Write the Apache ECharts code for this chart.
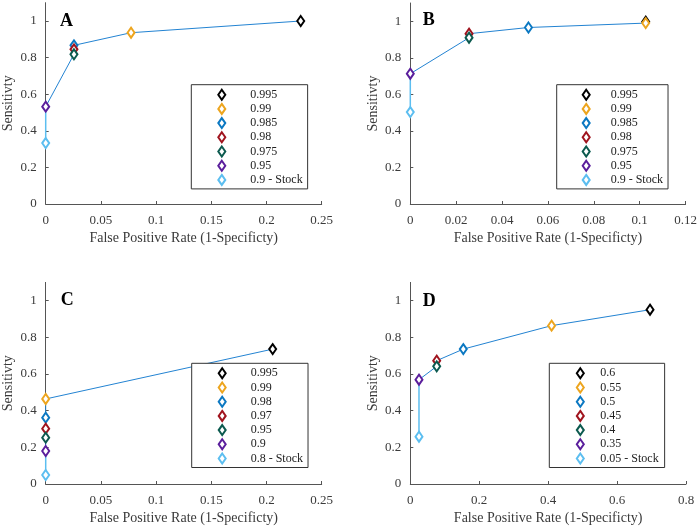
<!DOCTYPE html>
<html><head><meta charset="utf-8">
<script src="https://cdn.jsdelivr.net/npm/echarts@6/dist/echarts.min.js"></script>
<style>html,body{margin:0;padding:0;background:#fff}#c{width:700px;height:528px}</style>
</head><body><div id="c"></div>
<script>
// ---- data ----
const markerColors = ['#000000', '#EDA51E', '#0B78C2', '#A0141E', '#0C5A4F', '#5A1E9C', '#5CBEF0'];

const namesA = ['0.995', '0.99', '0.985', '0.98', '0.975', '0.95', '0.9 - Stock'];
const fprA   = [0.231, 0.0773, 0.0256, 0.0256, 0.0256, 0, 0];
const sensA  = [1.0, 0.936, 0.867, 0.845, 0.818, 0.532, 0.333];

const namesB = ['0.995', '0.99', '0.985', '0.98', '0.975', '0.95', '0.9 - Stock'];
const fprB   = [0.1026, 0.1026, 0.0515, 0.0256, 0.0256, 0, 0];
const sensB  = [0.998, 0.99, 0.966, 0.932, 0.910, 0.713, 0.503];

const namesC = ['0.995', '0.99', '0.98', '0.97', '0.95', '0.9', '0.8 - Stock'];
const fprC   = [0.2056, 0, 0, 0, 0, 0, 0];
const sensC  = [0.736, 0.464, 0.362, 0.302, 0.253, 0.18, 0.049];

const namesD = ['0.6', '0.55', '0.5', '0.45', '0.4', '0.35', '0.05 - Stock'];
const fprD   = [0.6956, 0.410, 0.1538, 0.0766, 0.0766, 0.0252, 0.0252];
const sensD  = [0.951, 0.864, 0.736, 0.673, 0.642, 0.569, 0.258];

const xTicksA = [0, 0.05, 0.1, 0.15, 0.2, 0.25];
const xTicksB = [0, 0.02, 0.04, 0.06, 0.08, 0.1, 0.12];
const xTicksC = [0, 0.05, 0.1, 0.15, 0.2, 0.25];
const xTicksD = [0, 0.2, 0.4, 0.6, 0.8];
const yTicks  = [0, 0.2, 0.4, 0.6, 0.8, 1];
const panelLetters = ['A', 'B', 'C', 'D'];

const xTitle = 'False Positive Rate (1-Specificty)';
const yTitle = 'Sensitivty';

// ---- layout ----
const FONT = '"Liberation Serif", "Times New Roman", serif';
const panels = [
  {names: namesA, x: fprA, y: sensA, ticks: xTicksA, interval: 0.05,
   grid: {left: 45.7, top: 2.7, width: 276, height: 201.3},
   legend: {left: 191.3, top: 84.7, itemWidth: 47, padding: [4, 5, 3, 6]},
   letter: {x: 60, y: 21}},
  {names: namesB, x: fprB, y: sensB, ticks: xTicksB, interval: 0.02,
   grid: {left: 410.3, top: 3, width: 275.7, height: 201},
   legend: {left: 556.7, top: 84.7, itemWidth: 39, padding: [4, 5, 3, 9]},
   letter: {x: 422.7, y: 20}},
  {names: namesC, x: fprC, y: sensC, ticks: xTicksC, interval: 0.05,
   grid: {left: 45.7, top: 282.4, width: 276, height: 201.6},
   legend: {left: 191.7, top: 363.3, itemWidth: 47, padding: [4, 5, 3, 6]},
   letter: {x: 60.7, y: 300.7}},
  {names: namesD, x: fprD, y: sensD, ticks: xTicksD, interval: 0.2,
   grid: {left: 410.3, top: 282.4, width: 275.7, height: 201.6},
   legend: {left: 549.3, top: 363.3, itemWidth: 30, padding: [4, 6, 3, 15]},
   letter: {x: 422.7, y: 301.5}}
];

const DIAMOND = 'path://M3.5,0L7,5L3.5,10L0,5Z';
// legend icon: diamond centred in a W x 10 box (corner moves fix the box)
function legendIcon(W) {
  const c = W / 2;
  return 'path://M0,0M' + W + ',10M' + c + ',0L' + (c + 3.5) + ',5L' + c + ',10L' + (c - 3.5) + ',5Z';
}
const grids = [], xAxes = [], yAxes = [], series = [], legends = [], graphics = [];

panels.forEach((p, i) => {
  grids.push(Object.assign({containLabel: false}, p.grid));
  const n = p.ticks.length;
  xAxes.push({
    type: 'value', gridIndex: i, min: p.ticks[0], max: p.ticks[n - 1], interval: p.interval,
    name: xTitle, nameLocation: 'middle', nameGap: 27,
    nameTextStyle: {fontFamily: FONT, fontSize: 14, color: '#3a3a3a'},
    axisLine: {show: true, onZero: false, lineStyle: {color: '#555', width: 1}},
    axisTick: {show: true, inside: true, length: 3, lineStyle: {color: '#555'}, customValues: p.ticks},
    axisLabel: {fontFamily: FONT, fontSize: 13, color: '#3a3a3a', margin: 10, customValues: p.ticks},
    splitLine: {show: false}
  });
  yAxes.push({
    type: 'value', gridIndex: i, min: 0, max: 1.1,
    name: yTitle, nameLocation: 'middle', nameGap: 30, nameRotate: 90,
    nameTextStyle: {fontFamily: FONT, fontSize: 14, color: '#3a3a3a'},
    axisLine: {show: true, onZero: false, lineStyle: {color: '#555', width: 1}},
    axisTick: {show: true, inside: true, length: 3, lineStyle: {color: '#555'}, customValues: yTicks},
    axisLabel: {fontFamily: FONT, fontSize: 13, color: '#3a3a3a', margin: 9, customValues: yTicks},
    splitLine: {show: false}
  });
  const last = p.names.length - 1;
  const curve = [];
  for (let k = last - 1; k >= 0; k--) curve.push([p.x[k], p.y[k]]);
  series.push({
    type: 'line', xAxisIndex: i, yAxisIndex: i, data: curve, showSymbol: false, symbol: 'none',
    lineStyle: {color: '#2383D2', width: 1}, z: 1, silent: true, animation: false
  });
  series.push({
    type: 'line', xAxisIndex: i, yAxisIndex: i,
    data: [[p.x[last], p.y[last]], [p.x[last - 1], p.y[last - 1]]], showSymbol: false, symbol: 'none',
    lineStyle: {color: '#5CBEF0', width: 1.5}, z: 1, silent: true, animation: false
  });
  p.names.forEach((nm, k) => {
    series.push({
      type: 'scatter', name: nm, xAxisIndex: i, yAxisIndex: i,
      data: [[p.x[k], p.y[k]]], symbol: DIAMOND, symbolSize: [7, 10],
      itemStyle: {color: '#ffffff', borderColor: markerColors[k], borderWidth: 2, opacity: 1},
      z: 3, animation: false
    });
  });
  const icon = legendIcon(p.legend.itemWidth);
  legends.push({
    orient: 'vertical', left: p.legend.left, top: p.legend.top,
    itemWidth: p.legend.itemWidth, itemHeight: 10, itemGap: 2.2, symbolKeepAspect: false,
    padding: p.legend.padding, borderColor: '#333', borderWidth: 1, backgroundColor: '#ffffff',
    selectedMode: false, z: 10,
    textStyle: {fontFamily: FONT, fontSize: 12, color: '#222'},
    data: p.names.map((nm, k) => ({
      name: nm, icon: icon,
      itemStyle: {color: '#ffffff', borderColor: markerColors[k], borderWidth: 2}
    }))
  });
  graphics.push({
    type: 'text', x: p.letter.x, y: p.letter.y, z: 20,
    style: {text: panelLetters[i], font: 'bold 18px ' + FONT, fill: '#000', verticalAlign: 'middle'}
  });
});

const chart = echarts.init(document.getElementById('c'), null, {renderer: 'canvas'});
chart.setOption({
  animation: false,
  backgroundColor: '#ffffff',
  grid: grids, xAxis: xAxes, yAxis: yAxes, series: series, legend: legends, graphic: graphics
});
</script></body></html>
